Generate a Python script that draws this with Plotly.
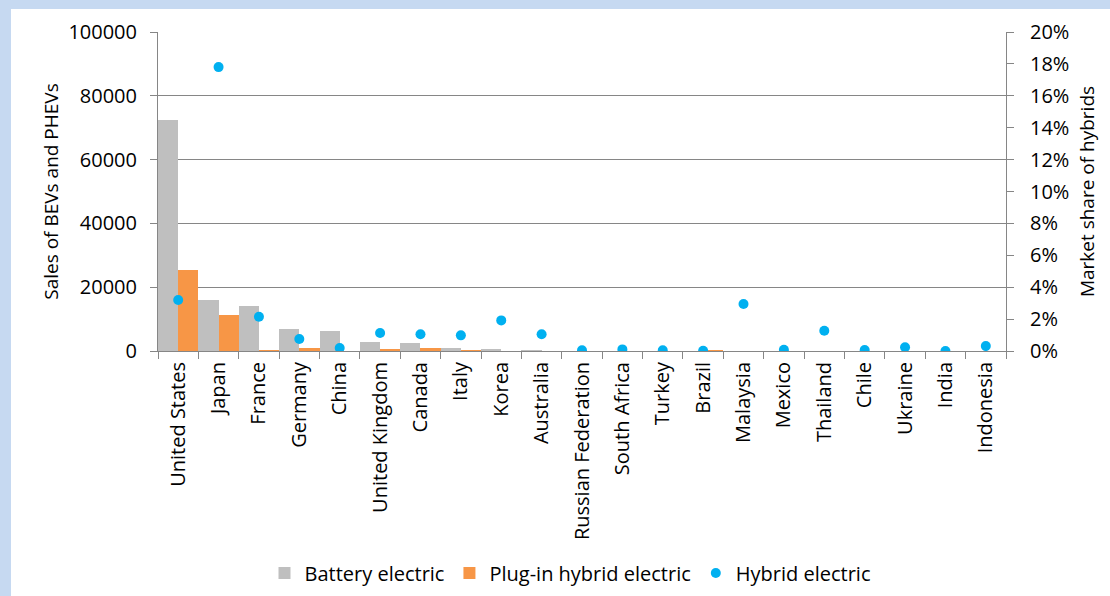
import plotly.graph_objects as go

countries = ["United States", "Japan", "France", "Germany", "China", "United Kingdom",
             "Canada", "Italy", "Korea", "Australia", "Russian Federation", "South Africa",
             "Turkey", "Brazil", "Malaysia", "Mexico", "Thailand", "Chile", "Ukraine",
             "India", "Indonesia"]
battery = [72500, 15900, 14000, 6800, 6300, 2900, 2500, 1000, 550, 250, 0, 0,
           0, 0, 0, 0, 0, 0, 0, 0, 0]
phev = [25300, 11200, 200, 850, 0, 550, 950, 300, 0, 0, 0, 0,
        0, 150, 0, 0, 0, 0, 0, 0, 0]
hybrid_share = [0.032, 0.178, 0.0215, 0.0075, 0.0019, 0.0113, 0.0105, 0.0098, 0.0192,
                0.0105, 0.0005, 0.001, 0.0005, 0.0002, 0.0295, 0.0008, 0.0127, 0.0006,
                0.0023, 0.0, 0.0031]

FONT = "Open Sans"
W, H = 1110, 596
ML, MR, MT, MB = 158, 104, 32, 245
PW, PH = W - ML - MR, H - MT - MB

fig = go.Figure()
fig.add_trace(go.Bar(x=countries, y=battery, name="Battery electric",
                     marker=dict(color="#bfbfbf", line=dict(width=0))))
fig.add_trace(go.Bar(x=countries, y=phev, name="Plug-in hybrid electric",
                     marker=dict(color="#f79646", line=dict(width=0))))
fig.add_trace(go.Scatter(x=countries, y=hybrid_share, name="Hybrid electric", mode="markers",
                         yaxis="y2", marker=dict(color="#00b0f0", size=10)))

def px_x(p):
    return (p - ML) / PW

def px_y(p):
    return (H - MB - p) / PH

shapes = [
    dict(type="rect", xref="paper", yref="paper", x0=px_x(0), x1=px_x(11), y0=px_y(H), y1=px_y(0),
         fillcolor="#c6d9f1", line=dict(width=0), layer="below"),
    dict(type="rect", xref="paper", yref="paper", x0=px_x(0), x1=px_x(W), y0=px_y(9), y1=px_y(0),
         fillcolor="#c6d9f1", line=dict(width=0), layer="below"),
]

fig.update_layout(
    width=W, height=H,
    margin=dict(l=ML, r=MR, t=MT, b=MB, autoexpand=False),
    paper_bgcolor="white", plot_bgcolor="white",
    font=dict(family=FONT, size=18, color="#000000"),
    barmode="group", bargap=0, bargroupgap=0,
    shapes=shapes,
    showlegend=True,
    legend=dict(orientation="h", x=px_x(570), xanchor="center", y=px_y(573), yanchor="middle",
                font=dict(size=20), traceorder="normal"),
    xaxis=dict(type="category", range=[-0.5, 20.5], automargin=False, showgrid=False,
               showline=True, linecolor="#868686", linewidth=1,
               ticks="outside", tickson="boundaries", ticklen=7, tickcolor="#868686",
               tickangle=-90, tickfont=dict(size=20), ticklabelstandoff=2),
    yaxis=dict(range=[0, 100000], dtick=20000, automargin=False, showgrid=True,
               gridcolor="#868686", gridwidth=1,
               showline=True, linecolor="#868686", ticks="outside", ticklen=7, tickcolor="#868686",
               tickformat="d", zeroline=False, ticklabelstandoff=9,
               title=dict(text="Sales of BEVs and PHEVs", font=dict(size=19), standoff=4),
               tickfont=dict(size=20)),
    yaxis2=dict(range=[0, 0.2], dtick=0.02, overlaying="y", side="right", automargin=False,
                showgrid=False,
                showline=True, linecolor="#868686", ticks="outside", ticklen=7, tickcolor="#868686",
                tickformat=".0%", zeroline=False, ticklabelstandoff=12,
                title=dict(text="Market share of hybrids", font=dict(size=19), standoff=12),
                tickfont=dict(size=20)),
)

fig.write_html("out.html", config={"displayModeBar": False},
               post_script="document.body.style.margin='0';")
